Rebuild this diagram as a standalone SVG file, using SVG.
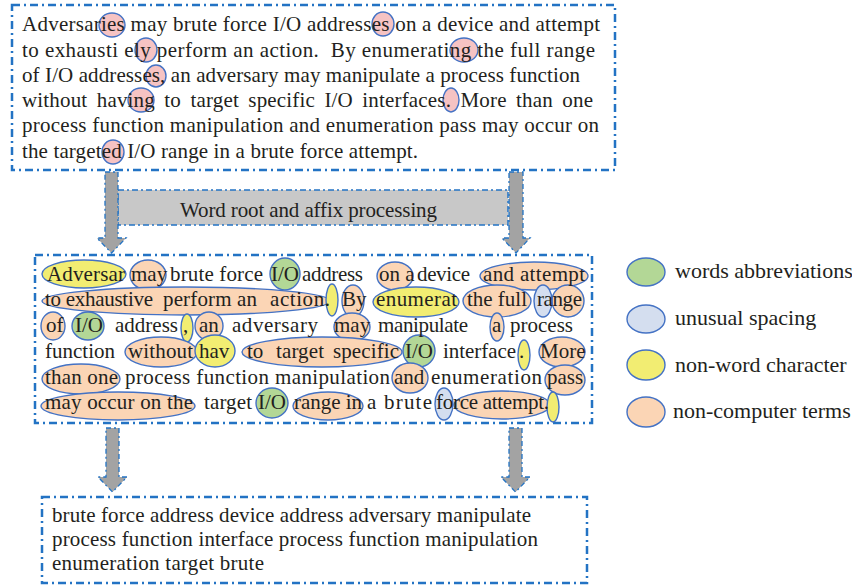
<svg xmlns="http://www.w3.org/2000/svg" width="852" height="588" viewBox="0 0 852 588">
<defs>
<style>
.box{fill:#ffffff;stroke:#2373c4;stroke-width:2.5;stroke-dasharray:8 4 2 4}
.bar{fill:#c8c8c8;stroke:#2373c4;stroke-width:1.5;stroke-dasharray:6 3 2 3}
.arrow{fill:#a3a3a3;stroke:#2373c4;stroke-width:1.3;stroke-dasharray:5 3 2 3}
.t{font-family:"Liberation Serif","Times New Roman",serif;font-size:21px;fill:#231f20}
.lg{font-family:"Liberation Serif","Times New Roman",serif;font-size:22px;fill:#231f20}
.e{stroke:#4472c4;stroke-width:1.4}
.pk{fill:#f6c3c3}
.ye{fill:#f2ed72}
.pe{fill:#fbd5b5}
.gr{fill:#b3d796}
.bl{fill:#d4deef}
</style>
</defs>
<rect width="852" height="588" fill="#ffffff"/>

<g id="source-text">
<rect class="box" x="12" y="5" width="603" height="165"/>
<g>
<ellipse class="e pk" cx="112" cy="25" rx="13" ry="12"/>
<ellipse class="e pk" cx="383" cy="24" rx="11" ry="12"/>
<ellipse class="e pk" cx="146" cy="50" rx="11" ry="12"/>
<ellipse class="e pk" cx="464" cy="50" rx="14" ry="12"/>
<ellipse class="e pk" cx="156" cy="76" rx="10" ry="11"/>
<ellipse class="e pk" cx="141" cy="100" rx="13" ry="12"/>
<ellipse class="e pk" cx="451" cy="100" rx="8" ry="12"/>
<ellipse class="e pk" cx="113" cy="152" rx="11" ry="12"/>
</g>
<text class="t" x="22" y="31" textLength="578" lengthAdjust="spacing">Adversaries may brute force I/O addresses on a device and attempt</text>
<text class="t" x="22" y="57" textLength="573" lengthAdjust="spacing" xml:space="preserve">to exhausti ely perform an action.  By enumerating the full range</text>
<text class="t" x="22" y="82" textLength="558" lengthAdjust="spacing">of I/O addresses, an adversary may manipulate a process function</text>
<text class="t" x="22" y="107" textLength="571" lengthAdjust="spacing" word-spacing="4">without having to target specific I/O interfaces. More than one</text>
<text class="t" x="22" y="132" textLength="577" lengthAdjust="spacing">process function manipulation and enumeration pass may occur on</text>
<text class="t" x="22" y="158" textLength="396" lengthAdjust="spacing">the targeted I/O range in a brute force attempt.</text>
</g>

<g id="processing-step">
<rect class="bar" x="118" y="190" width="390" height="35"/>
<text class="t" x="180" y="217" textLength="257" lengthAdjust="spacing">Word root and affix processing</text>
</g>

<g id="annotated-text">
<rect class="box" x="35" y="255" width="557" height="168"/>
<g id="marks">
<ellipse class="e ye" cx="84" cy="274" rx="42" ry="14"/>
<ellipse class="e pe" cx="148" cy="275" rx="18" ry="15"/>
<ellipse class="e gr" cx="285" cy="274" rx="15" ry="16"/>
<ellipse class="e pe" cx="395" cy="276" rx="18" ry="14"/>
<ellipse class="e pe" cx="534" cy="276" rx="54" ry="14"/>
<ellipse class="e pe" cx="186" cy="301" rx="144" ry="14"/>
<ellipse class="e ye" cx="332" cy="300" rx="6" ry="16"/>
<ellipse class="e pe" cx="353" cy="301" rx="11" ry="16"/>
<ellipse class="e ye" cx="416" cy="302" rx="43" ry="15"/>
<ellipse class="e pe" cx="497" cy="301" rx="34" ry="16"/>
<ellipse class="e pe" cx="568" cy="301" rx="16" ry="16"/>
<ellipse class="e bl" cx="543" cy="301" rx="9" ry="16"/>
<ellipse class="e pe" cx="53" cy="326" rx="12" ry="14"/>
<ellipse class="e gr" cx="88" cy="326" rx="16" ry="14"/>
<ellipse class="e ye" cx="187" cy="328" rx="6" ry="14"/>
<ellipse class="e pe" cx="209" cy="326" rx="14" ry="14"/>
<ellipse class="e pe" cx="352" cy="327" rx="18" ry="14"/>
<ellipse class="e pe" cx="497" cy="327" rx="7" ry="14"/>
<ellipse class="e pe" cx="161" cy="352" rx="36" ry="15"/>
<ellipse class="e ye" cx="215" cy="351" rx="20" ry="16"/>
<ellipse class="e pe" cx="322" cy="352" rx="80" ry="15"/>
<ellipse class="e gr" cx="419" cy="351" rx="16" ry="16"/>
<ellipse class="e ye" cx="524" cy="355" rx="6" ry="15"/>
<ellipse class="e pe" cx="562" cy="352" rx="23" ry="15"/>
<ellipse class="e pe" cx="81" cy="379" rx="39" ry="15"/>
<ellipse class="e pe" cx="410" cy="378" rx="18" ry="15"/>
<ellipse class="e pe" cx="565" cy="380" rx="20" ry="15"/>
<ellipse class="e pe" cx="118" cy="406" rx="77" ry="14"/>
<ellipse class="e gr" cx="272" cy="403" rx="16" ry="15"/>
<ellipse class="e pe" cx="328" cy="406" rx="35" ry="14"/>
<ellipse class="e pe" cx="502" cy="405" rx="48" ry="14"/>
<ellipse class="e bl" cx="444" cy="404" rx="9" ry="16"/>
<ellipse class="e ye" cx="553" cy="407" rx="6" ry="15"/>
</g>
<g id="words">
<text class="t" x="47" y="281" textLength="78" lengthAdjust="spacing">Adversar</text>
<text class="t" x="131" y="281">may</text>
<text class="t" x="170" y="281" textLength="93" lengthAdjust="spacing">brute force</text>
<text class="t" x="271" y="281">I/O</text>
<text class="t" x="302" y="281" textLength="61" lengthAdjust="spacing">address</text>
<text class="t" x="379" y="281">on a</text>
<text class="t" x="417" y="281" textLength="53" lengthAdjust="spacing">device</text>
<text class="t" x="483" y="281" textLength="102" lengthAdjust="spacing">and attempt</text>

<text class="t" x="45" y="306" textLength="108" lengthAdjust="spacing">to exhaustive</text>
<text class="t" x="163" y="306" textLength="94" lengthAdjust="spacing">perform an</text>
<text class="t" x="270" y="306" textLength="60" lengthAdjust="spacing">action.</text>
<text class="t" x="342" y="306">By</text>
<text class="t" x="376" y="306" textLength="81" lengthAdjust="spacing">enumerat</text>
<text class="t" x="467" y="306" textLength="60" lengthAdjust="spacing">the full</text>
<text class="t" x="537" y="306" textLength="45" lengthAdjust="spacing">range</text>

<text class="t" x="46" y="332">of</text>
<text class="t" x="75" y="332">I/O</text>
<text class="t" x="115" y="332" textLength="63" lengthAdjust="spacing">address</text>
<text class="t" x="183" y="332">,</text>
<text class="t" x="199" y="332">an</text>
<text class="t" x="232" y="332" textLength="86" lengthAdjust="spacing">adversary</text>
<text class="t" x="334" y="332">may</text>
<text class="t" x="378" y="332" textLength="90" lengthAdjust="spacing">manipulate</text>
<text class="t" x="492" y="332">a</text>
<text class="t" x="510" y="332" textLength="63" lengthAdjust="spacing">process</text>

<text class="t" x="45" y="358" textLength="70" lengthAdjust="spacing">function</text>
<text class="t" x="128" y="358" textLength="65" lengthAdjust="spacing">without</text>
<text class="t" x="199" y="358">hav</text>
<text class="t" x="247" y="358">to</text>
<text class="t" x="276" y="358" textLength="48" lengthAdjust="spacing">target</text>
<text class="t" x="333" y="358" textLength="66" lengthAdjust="spacing">specific</text>
<text class="t" x="405" y="358">I/O</text>
<text class="t" x="443" y="358" textLength="73" lengthAdjust="spacing">interface</text>
<text class="t" x="519" y="358">.</text>
<text class="t" x="540" y="358">More</text>

<text class="t" x="45" y="384" textLength="73" lengthAdjust="spacing">than one</text>
<text class="t" x="125" y="384" textLength="265" lengthAdjust="spacing">process function manipulation</text>
<text class="t" x="394" y="384">and</text>
<text class="t" x="431" y="384" textLength="111" lengthAdjust="spacing">enumeration</text>
<text class="t" x="547" y="384">pass</text>

<text class="t" x="45" y="409" textLength="148" lengthAdjust="spacing">may occur on the</text>
<text class="t" x="204" y="409" textLength="48" lengthAdjust="spacing">target</text>
<text class="t" x="258" y="409">I/O</text>
<text class="t" x="294" y="409" textLength="68" lengthAdjust="spacing">range in</text>
<text class="t" x="367" y="409" textLength="65" lengthAdjust="spacing">a brute</text>
<text class="t" x="436" y="409" textLength="113" lengthAdjust="spacing">force attempt.</text>
</g>
</g>

<g id="legend">
<g id="legend-abbrev">
<ellipse class="e gr" cx="646" cy="272" rx="19" ry="14"/>
<text class="lg" x="675" y="278">words abbreviations</text>
</g>
<g id="legend-spacing">
<ellipse class="e bl" cx="646" cy="319" rx="19" ry="14"/>
<text class="lg" x="675" y="325">unusual spacing</text>
</g>
<g id="legend-nonword">
<ellipse class="e ye" cx="646" cy="365" rx="19" ry="15"/>
<text class="lg" x="675" y="372">non-word character</text>
</g>
<g id="legend-noncomputer">
<ellipse class="e pe" cx="646" cy="412" rx="19" ry="15"/>
<text class="lg" x="673" y="418">non-computer terms</text>
</g>
</g>

<g id="result-text">
<rect class="box" x="42" y="497" width="545" height="86"/>
<text class="t" x="52" y="522" textLength="479" lengthAdjust="spacing">brute force address device address adversary manipulate</text>
<text class="t" x="52" y="546" textLength="486" lengthAdjust="spacing">process function interface process function manipulation</text>
<text class="t" x="52" y="570" textLength="212" lengthAdjust="spacing">enumeration target brute</text>
</g>

<g id="connectors">
<polygon class="arrow" points="105,172 118,172 118,238 126,238 111.5,253 97,238 105,238"/>
<polygon class="arrow" points="509,172 523,172 523,238 530,238 516,253 502,238 509,238"/>
<polygon class="arrow" points="106,428 119,428 119,477 127,477 112.5,492 98,477 106,477"/>
<polygon class="arrow" points="509,428 522,428 522,477 530,477 515.5,492 501,477 509,477"/>
</g>
</svg>
